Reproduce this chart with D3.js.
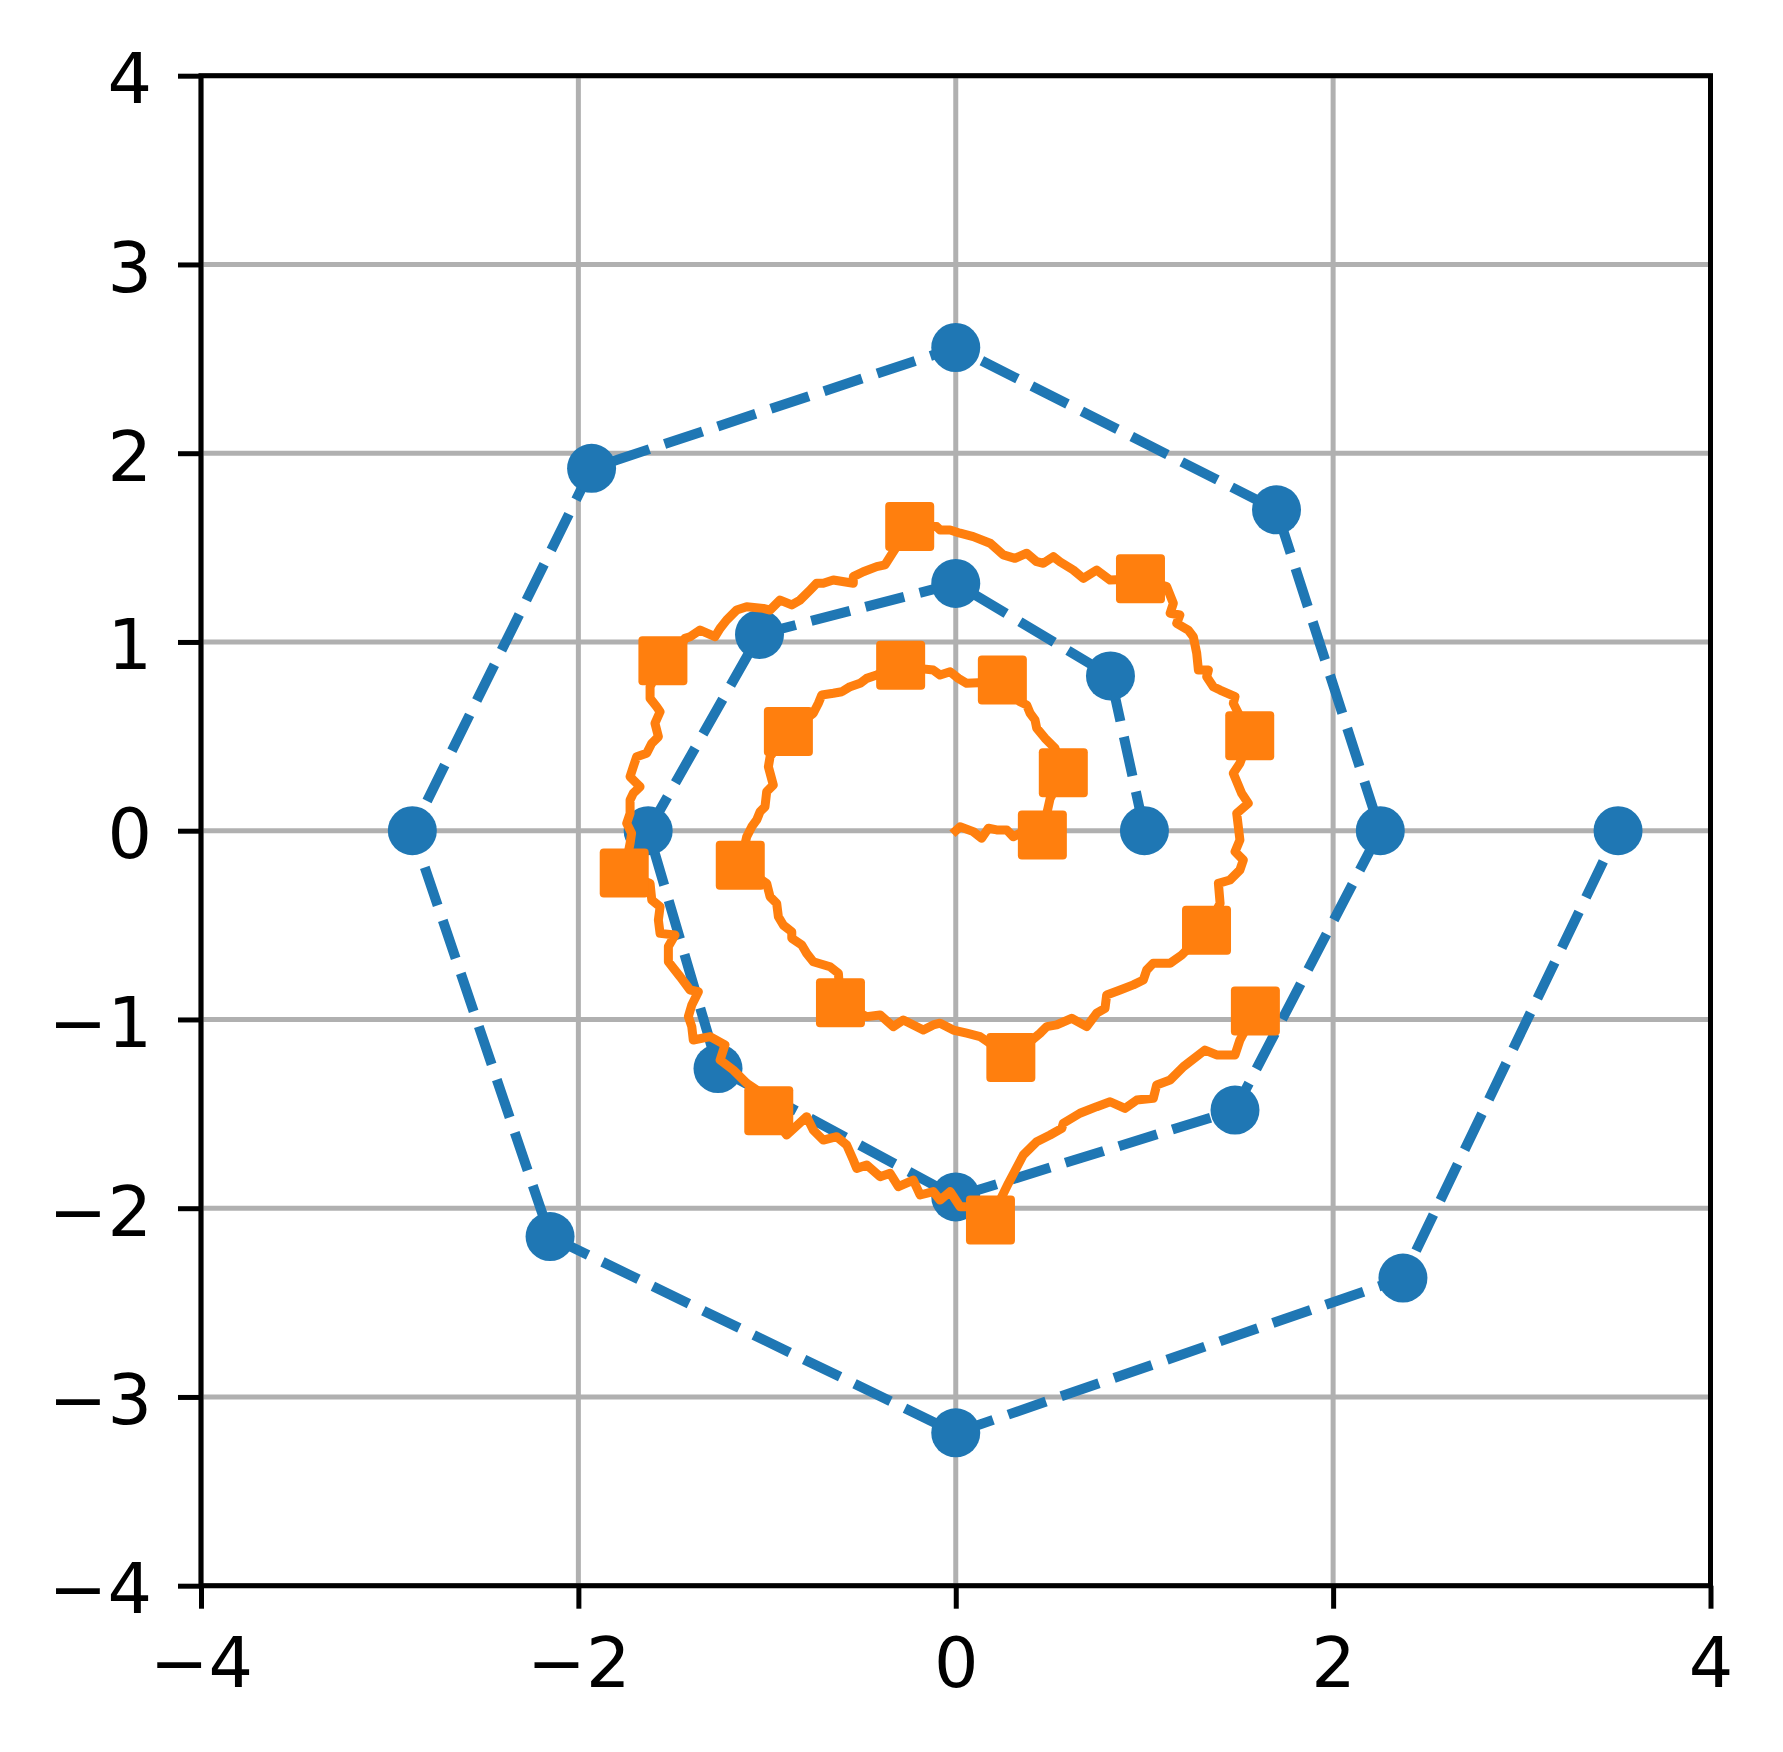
<!DOCTYPE html>
<html><head><meta charset="utf-8">
<script src="https://cdn.jsdelivr.net/npm/d3@7"></script>
<style>body{margin:0;background:#fff} text{font-family:"DejaVu Sans",sans-serif}</style>
</head><body><svg id="c" width="1783" height="1752"></svg>
<script>
const xTicks = [-4, -2, 0, 2, 4];
const yTicks = [-4, -3, -2, -1, 0, 1, 2, 3, 4];

const blueX = [1.0, 0.82, 0, -1.04, -1.63, -1.26, 0, 1.48, 2.25, 1.70, 0, -1.93, -2.88, -2.15, 0, 2.37, 3.51];
const blueY = [0, 0.82, 1.31, 1.04, 0, -1.26, -1.94, -1.48, 0, 1.70, 2.56, 1.92, 0, -2.15, -3.19, -2.37, 0];

const orangeMarkers = [
  [0.459,-0.023],[0.570,0.307],[0.247,0.798],[-0.292,0.877],[-0.887,0.525],[-1.142,-0.183],
  [-0.611,-0.912],[0.292,-1.202],[1.329,-0.527],[1.558,0.503],[0.979,1.335],[-0.244,1.612],
  [-1.552,0.901],[-1.757,-0.224],[-0.991,-1.484],[0.184,-2.063],[1.588,-0.955]
];

const orangeLine = [
  [0,0],[0.023,0.021],[0.093,-0.005],[0.137,-0.040],[0.173,0.013],[0.217,0.004],[0.270,0.004],[0.305,-0.032],[0.340,-0.014],[0.40,-0.02],
  [0.459,-0.023],
  [0.48,0.08],[0.50,0.17],
  [0.570,0.307],
  [0.526,0.437],[0.473,0.490],[0.429,0.543],[0.420,0.587],[0.394,0.622],[0.376,0.666],[0.340,0.683],
  [0.247,0.798],
  [0.150,0.785],[0.058,0.781],[0.014,0.807],[-0.030,0.842],[-0.083,0.825],[-0.119,0.851],[-0.20,0.86],
  [-0.292,0.877],
  [-0.419,0.825],[-0.472,0.807],[-0.507,0.781],[-0.560,0.763],[-0.604,0.736],[-0.649,0.728],[-0.710,0.719],[-0.728,0.675],[-0.755,0.622],
  [-0.887,0.525],
  [-0.984,0.392],[-0.993,0.339],[-0.967,0.242],[-1.002,0.207],[-1.011,0.127],[-1.037,0.101],[-1.055,0.057],[-1.081,0.021],[-1.108,-0.032],
  [-1.142,-0.183],
  [-1.002,-0.279],[-0.984,-0.350],[-0.949,-0.385],[-0.940,-0.456],[-0.914,-0.500],[-0.869,-0.535],[-0.869,-0.570],[-0.816,-0.606],[-0.790,-0.650],[-0.755,-0.694],[-0.666,-0.721],[-0.622,-0.755],
  [-0.611,-0.912],
  [-0.472,-0.985],[-0.401,-0.976],[-0.331,-1.038],[-0.278,-1.003],[-0.225,-1.029],[-0.172,-1.056],[-0.119,-1.029],[-0.083,-1.020],[-0.013,-1.056],[0.058,-1.073],[0.129,-1.091],
  [0.292,-1.202],
  [0.447,-1.073],[0.482,-1.038],[0.535,-1.029],[0.614,-0.994],[0.694,-1.038],[0.747,-0.967],[0.791,-0.941],[0.800,-0.870],[0.871,-0.844],[0.941,-0.817],[0.994,-0.791],[1.012,-0.738],[1.047,-0.702],[1.136,-0.702],[1.197,-0.659],
  [1.329,-0.527],
  [1.401,-0.385],[1.392,-0.279],[1.453,-0.261],[1.506,-0.208],[1.524,-0.155],[1.480,-0.111],[1.506,-0.049],[1.489,0.092],[1.550,0.145],[1.515,0.198],[1.471,0.304],[1.506,0.357],
  [1.558,0.503],
  [1.471,0.675],[1.480,0.710],[1.401,0.745],[1.365,0.763],[1.330,0.816],[1.339,0.851],[1.286,0.851],[1.277,0.940],[1.259,1.028],[1.232,1.063],[1.171,1.099],[1.188,1.143],[1.136,1.152],[1.153,1.205],[1.118,1.293],
  [0.979,1.335],
  [0.818,1.328],[0.747,1.381],[0.676,1.337],[0.623,1.381],[0.552,1.425],[0.517,1.452],[0.464,1.417],[0.429,1.425],[0.376,1.470],[0.314,1.443],[0.252,1.461],[0.182,1.523],[0.093,1.558],[0.023,1.576],[-0.030,1.593],[-0.083,1.593],[-0.101,1.611],
  [-0.244,1.612],
  [-0.331,1.478],[-0.375,1.408],[-0.419,1.399],[-0.490,1.372],[-0.543,1.346],[-0.543,1.311],[-0.649,1.328],[-0.702,1.311],[-0.737,1.311],[-0.772,1.275],[-0.825,1.222],[-0.869,1.196],[-0.931,1.222],[-0.984,1.169],[-1.020,1.178],[-1.108,1.187],[-1.161,1.169],[-1.214,1.116],[-1.249,1.072],[-1.276,1.028],[-1.355,1.063],[-1.408,1.028],[-1.435,1.019],[-1.461,0.975],
  [-1.552,0.901],
  [-1.620,0.763],[-1.620,0.701],[-1.585,0.657],[-1.567,0.630],[-1.594,0.569],[-1.576,0.498],[-1.611,0.463],[-1.638,0.410],[-1.691,0.392],[-1.709,0.339],[-1.726,0.286],[-1.691,0.251],[-1.673,0.233],[-1.709,0.198],[-1.726,0.163],[-1.726,0.092],[-1.744,0.039],[-1.718,-0.014],[-1.726,-0.067],
  [-1.757,-0.224],
  [-1.620,-0.279],[-1.611,-0.367],[-1.567,-0.403],[-1.576,-0.473],[-1.567,-0.544],[-1.488,-0.553],[-1.523,-0.614],[-1.523,-0.694],[-1.461,-0.773],[-1.408,-0.844],[-1.364,-0.853],[-1.399,-0.923],[-1.417,-0.985],[-1.399,-1.038],[-1.391,-1.109],[-1.302,-1.091],[-1.223,-1.135],[-1.249,-1.215],[-1.179,-1.268],[-1.108,-1.338],[-1.055,-1.374],
  [-0.991,-1.484],
  [-0.896,-1.612],[-0.790,-1.515],[-0.755,-1.586],[-0.702,-1.639],[-0.631,-1.621],[-0.578,-1.665],[-0.543,-1.745],[-0.525,-1.789],[-0.472,-1.771],[-0.401,-1.833],[-0.348,-1.815],[-0.304,-1.886],[-0.225,-1.851],[-0.189,-1.930],[-0.119,-1.912],[-0.083,-1.957],[-0.030,-1.912],[0.023,-1.992],[0.058,-1.992],
  [0.184,-2.063],
  [0.279,-1.868],[0.358,-1.718],[0.429,-1.648],[0.500,-1.612],[0.562,-1.577],[0.570,-1.550],[0.658,-1.497],[0.747,-1.462],[0.818,-1.436],[0.897,-1.471],[0.959,-1.427],[1.047,-1.418],[1.065,-1.347],[1.136,-1.321],[1.207,-1.250],[1.321,-1.162],[1.383,-1.188],[1.480,-1.188],[1.506,-1.109],
  [1.588,-0.955]
];

const L = 201, R = 1710.5, T = 75.7, B = 1585.7;
const svg = d3.select('#c');
svg.append('rect').attr('width', 1783).attr('height', 1752).attr('fill', '#fff');

const x = d3.scaleLinear().domain([-4, 4]).range([L, R]);
const y = d3.scaleLinear().domain([-4, 4]).range([B, T]);
const fmt = v => (v < 0 ? '\u2212' : '') + Math.abs(v);

svg.append('clipPath').attr('id', 'clip').append('rect')
  .attr('x', L).attr('y', T).attr('width', R - L).attr('height', B - T);

// grid
const grid = svg.append('g').attr('stroke', '#b0b0b0').attr('stroke-width', 5);
grid.selectAll('.gx').data(xTicks).join('line')
  .attr('x1', d => x(d)).attr('x2', d => x(d)).attr('y1', T).attr('y2', B);
grid.selectAll('.gy').data(yTicks).join('line')
  .attr('y1', d => y(d)).attr('y2', d => y(d)).attr('x1', L).attr('x2', R);

const plot = svg.append('g').attr('clip-path', 'url(#clip)');

// blue series
const bluePts = blueX.map((v, i) => [v, blueY[i]]);
const line = d3.line().x(d => x(d[0])).y(d => y(d[1]));
plot.append('path').datum(bluePts).attr('d', line)
  .attr('fill', 'none').attr('stroke', '#1f77b4').attr('stroke-width', 10)
  .attr('stroke-dasharray', '40 16').attr('stroke-linecap', 'butt');
plot.selectAll('.bc').data(bluePts).join('circle')
  .attr('cx', d => x(d[0])).attr('cy', d => y(d[1])).attr('r', 24.5).attr('fill', '#1f77b4');

// orange series
plot.append('path').datum(orangeLine).attr('d', line)
  .attr('fill', 'none').attr('stroke', '#ff7f0e').attr('stroke-width', 9)
  .attr('stroke-linejoin', 'round').attr('stroke-linecap', 'square');
const S = 49;
plot.selectAll('.os').data(orangeMarkers).join('rect')
  .attr('x', d => x(d[0]) - S / 2).attr('y', d => y(d[1]) - S / 2)
  .attr('width', S).attr('height', S).attr('rx', 4).attr('fill', '#ff7f0e');

// axes
const ax = svg.append('g').attr('transform', `translate(0,${B})`)
  .call(d3.axisBottom(x).tickValues(xTicks).tickSize(23).tickFormat(fmt));
const ay = svg.append('g').attr('transform', `translate(${L},0)`)
  .call(d3.axisLeft(y).tickValues(yTicks).tickSize(23).tickFormat(fmt));
[ax, ay].forEach(g => {
  g.select('.domain').remove();
  g.selectAll('.tick line').attr('stroke', '#000').attr('stroke-width', 5);
  g.selectAll('.tick text').attr('fill', '#000').attr('font-size', 70)
    .attr('font-family', '"DejaVu Sans", sans-serif');
});
ax.selectAll('.tick text').attr('y', 101).attr('dy', 0);
ay.selectAll('.tick text').attr('x', -49).attr('dy', 0).attr('y', 27);

// spines
svg.append('rect').attr('x', L).attr('y', T).attr('width', R - L).attr('height', B - T)
  .attr('fill', 'none').attr('stroke', '#000').attr('stroke-width', 5).attr('stroke-linecap', 'square');
</script></body></html>
